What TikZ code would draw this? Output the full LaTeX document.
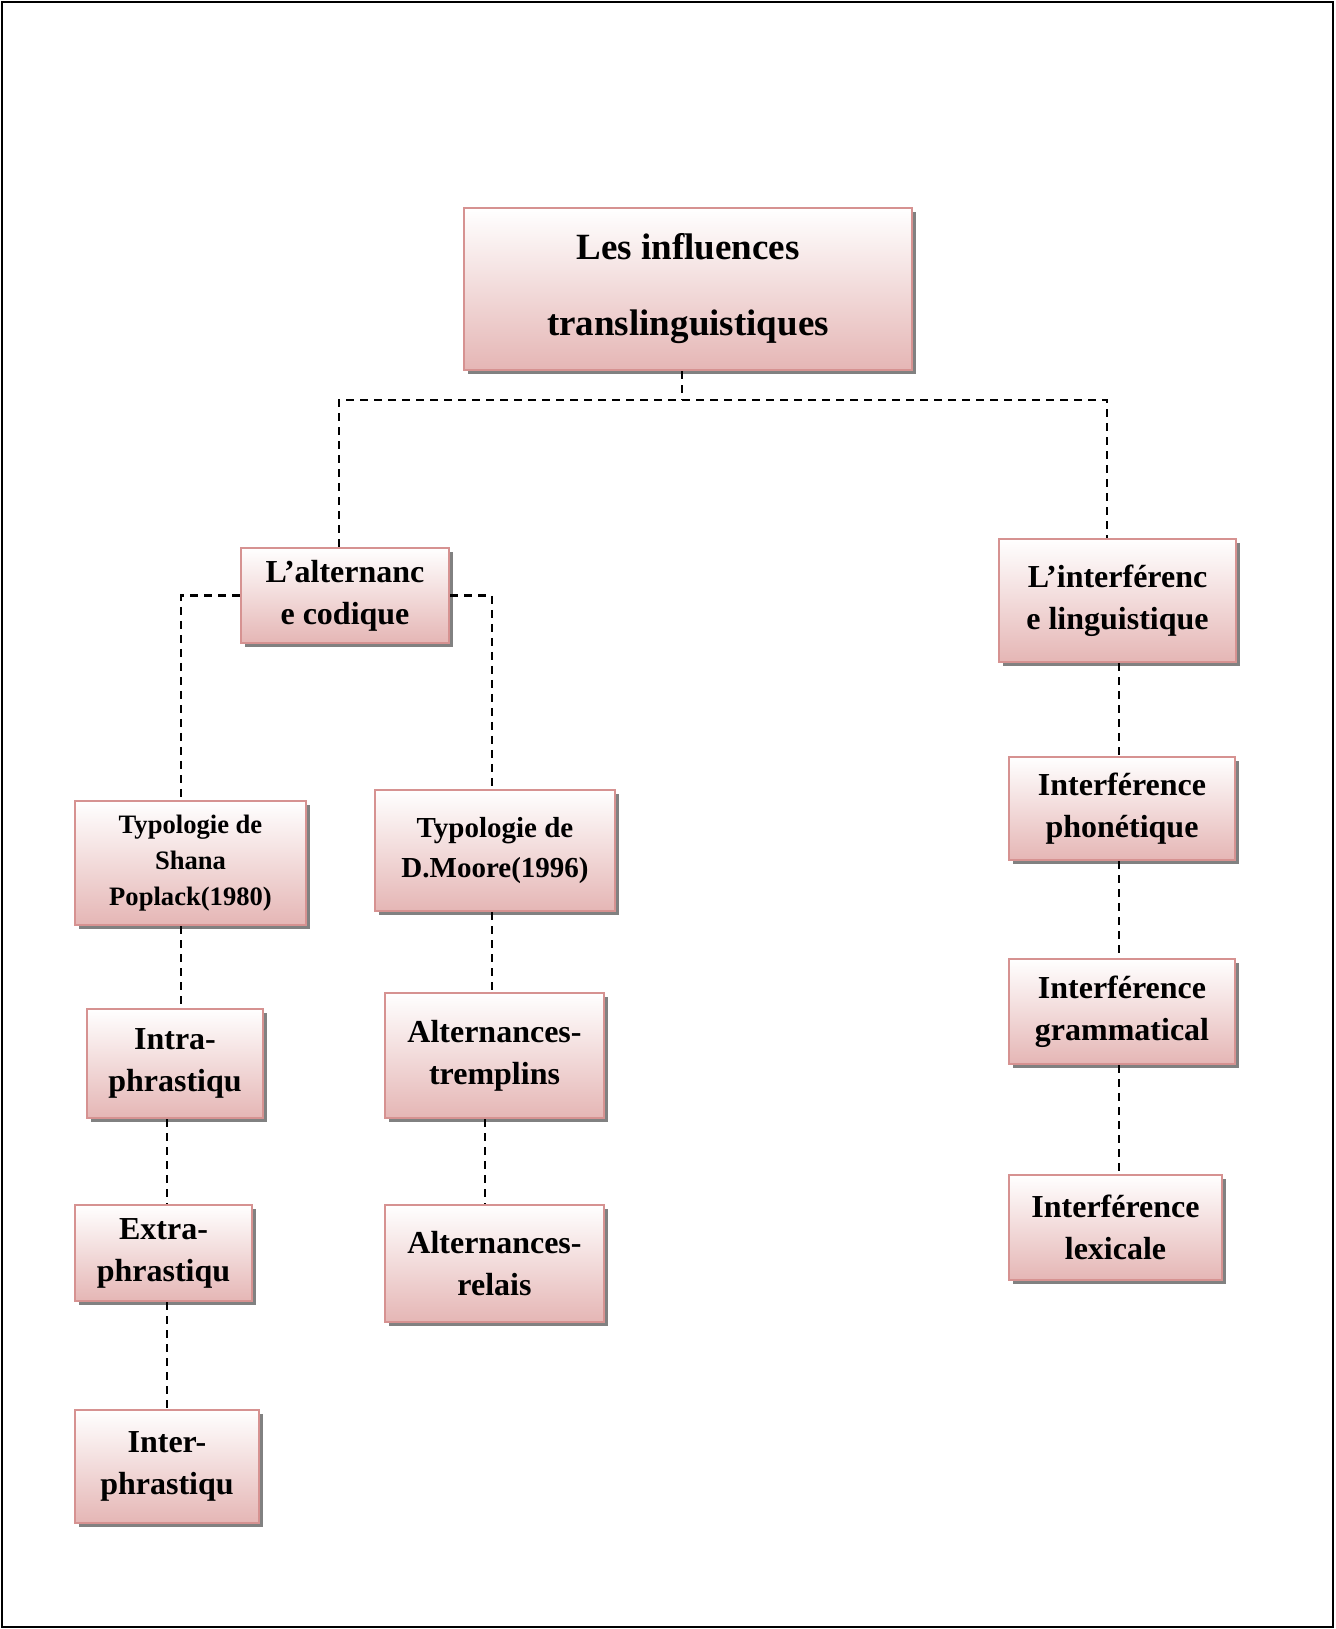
\documentclass[tikz,border=0pt]{standalone}
\usepackage{fontspec}
\setmainfont{Liberation Serif}
\usetikzlibrary{shadows}
\definecolor{boxline}{RGB}{214,146,145}
\definecolor{boxfill}{RGB}{229,182,181}

\begin{document}
\begin{tikzpicture}[x=1pt,y=-1pt,
   box/.style={draw=boxline,line width=2.5pt,top color=white,bottom color=boxfill,
     drop shadow={shadow xshift=4pt,shadow yshift=-4pt,fill=black!55,opacity=0.9},
     align=center,inner sep=2pt,font={\fontsize{32}{42}\selectfont\bfseries}},
   link/.style={line width=2.2pt,dash pattern=on 8pt off 6pt}]
   \useasboundingbox (0,0) rectangle (1335,1629);
   \draw[line width=2pt] (1.5,2) rectangle (1333,1627);

   % top
   \node[box,minimum width=448pt,minimum height=162pt,
         font={\fontsize{37}{76}\selectfont\bfseries}] (root) at (688,289) {Les influences\\translinguistiques};

   % left branch
   \node[box,minimum width=208pt,minimum height=95pt] (alt) at (345,595.5) {L’alternanc\\e codique};
   \node[box,minimum width=231pt,minimum height=124pt,
         font={\fontsize{26.6}{36}\selectfont\bfseries}] (shana) at (190.5,863) {Typologie de\\Shana\\Poplack(1980)};
   \node[box,minimum width=240pt,minimum height=121pt,
         font={\fontsize{29}{39.5}\selectfont\bfseries}] (moore) at (495,850.5) {Typologie de\\D.Moore(1996)};
   \node[box,minimum width=176pt,minimum height=109pt] (intra) at (175,1063.5) {Intra-\\phrastiqu};
   \node[box,minimum width=177pt,minimum height=96pt]  (extra) at (163.5,1253) {Extra-\\phrastiqu};
   \node[box,minimum width=184pt,minimum height=113pt] (inter) at (167,1466.5) {Inter-\\phrastiqu};
   \node[box,minimum width=219pt,minimum height=125pt] (tremp) at (494.5,1055.5) {Alternances-\\tremplins};
   \node[box,minimum width=219pt,minimum height=117pt] (relais) at (494.5,1263.5) {Alternances-\\relais};

   % right branch
   \node[box,minimum width=237pt,minimum height=123pt] (interf) at (1117.5,600.5) {L’interférenc\\e linguistique};
   \node[box,minimum width=226pt,minimum height=103pt] (phon) at (1122,808.5) {Interférence\\phonétique};
   \node[box,minimum width=226pt,minimum height=105pt] (gram) at (1122,1011.5) {Interférence\\grammatical};
   \node[box,minimum width=213pt,minimum height=105pt] (lex) at (1115.5,1227.5) {Interférence\\lexicale};

   \coordinate (split) at (682,400);
   \coordinate (hubL) at (339,400);
   \coordinate (hubR) at (1107,400);
   \coordinate (colA) at (181,0);
   \coordinate (colB) at (167,0);
   \coordinate (colC) at (492,0);
   \coordinate (colD) at (485,0);
   \coordinate (colE) at (1119,0);

   \draw[link] (root.south -| split) -- (split);
   \draw[link] (alt.north -| hubL) -- (hubL) -- (hubR) -- (interf.north -| hubR);
   \draw[link] (alt.west) -| (shana.north -| colA);
   \draw[link] (alt.east) -| (moore.north -| colC);
   \draw[link] (shana.south -| colA) -- (intra.north -| colA);
   \draw[link] (intra.south -| colB) -- (extra.north -| colB);
   \draw[link] (extra.south -| colB) -- (inter.north -| colB);
   \draw[link] (moore.south -| colC) -- (tremp.north -| colC);
   \draw[link] (tremp.south -| colD) -- (relais.north -| colD);
   \draw[link] (interf.south -| colE) -- (phon.north -| colE);
   \draw[link] (phon.south -| colE) -- (gram.north -| colE);
   \draw[link] (gram.south -| colE) -- (lex.north -| colE);
\end{tikzpicture}
\end{document}
